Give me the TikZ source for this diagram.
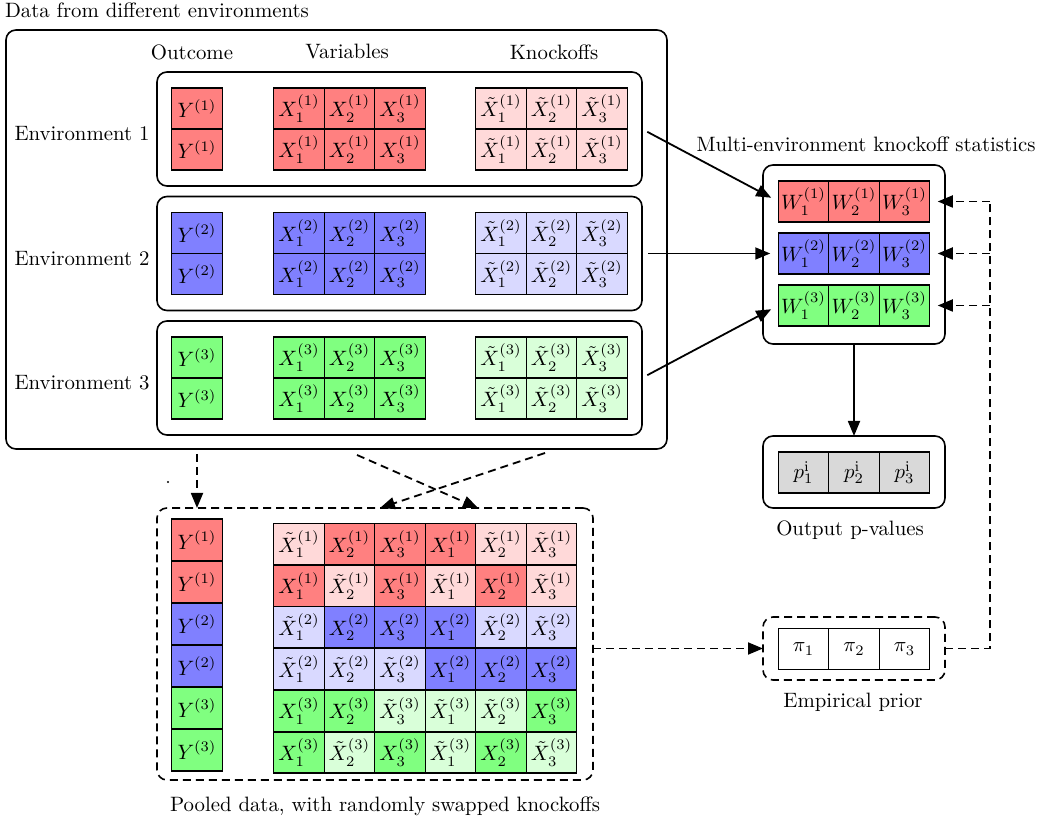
\RequirePackage{fix-cm}
\documentclass[tikz,border=0pt]{standalone}
\usetikzlibrary{arrows.meta,positioning}

\colorlet{env1}{red!50}
\colorlet{env2}{blue!50}
\colorlet{env3}{green!50}
\colorlet{env1l}{red!15}
\colorlet{env2l}{blue!15}
\colorlet{env3l}{green!15}

\begin{document}
\begin{tikzpicture}[x=0.5pt, y=-0.5pt, inner sep=0, outer sep=0,
  font=\fontsize{10.4pt}{12.5pt}\selectfont,
  cell/.style={rectangle, draw=black, semithick,
    minimum width=25.25pt, minimum height=20.5pt},
  panel/.style={rectangle, draw=black, thick, rounded corners=5pt},
  dashes/.style={dash pattern=on 4pt off 2.5pt},
  arr/.style={-{Triangle[length=7.5pt,width=6pt]}, line width=0.9pt},
  darr/.style={arr, dashes}]
  \useasboundingbox (0,0) rectangle (1038,822);

  % data from the environments
  \node[panel, minimum width=330.5pt, minimum height=209.5pt] (data) at (336.5,239.5) {};
  \node[anchor=west] (data-text) at (5,10) {Data from different environments};
  \node (outcome) at (192,52) {Outcome};
  \node (variables) at (347,52) {Variables};
  \node (knockoffs) at (554,52) {Knockoffs};

  \foreach \e/\yc in {1/129, 2/253.5, 3/378} {
    \node[panel, minimum width=242.5pt, minimum height=57pt] (env\e) at (399.5,\yc) {};
    \node (env\e-text) at (82,\yc+5) {Environment \e};
    \foreach \r/\dy in {1/-20.5, 2/20.5} {
      \node[cell, fill=env\e] (y\e\r) at (197,\yc+\dy) {$Y^{(\e)}$};
      \foreach \j/\x in {1/299, 2/349.5, 3/400}
        \node[cell, fill=env\e] (x\e\r\j) at (\x,\yc+\dy) {$X_\j^{(\e)}$};
      \foreach \j/\x in {1/501, 2/551.5, 3/602}
        \node[cell, fill=env\e l] (k\e\r\j) at (\x,\yc+\dy) {$\tilde X_\j^{(\e)}$};
    }
  }

  % knockoff statistics
  \node[panel, minimum width=91pt, minimum height=89.5pt] (wbox) at (854,254.5) {};
  \node (wbox-text) at (866,144) {Multi-environment knockoff statistics};
  \foreach \e/\y in {1/201.5, 2/253.5, 3/305.5}
    \foreach \j/\x in {1/803.5, 2/854, 3/904.5}
      \node[cell, fill=env\e] (w\e\j) at (\x,\y) {$W_\j^{(\e)}$};

  % p-values
  \node[panel, minimum width=91pt, minimum height=36pt] (pbox) at (854,472) {};
  \node (pbox-text) at (850,530) {Output p-values};
  \foreach \j/\x in {1/803.5, 2/854, 3/904.5}
    \node[cell, fill=gray!30] (p\j) at (\x,472.5) {$p_\j^{\mathrm{i}}$};

  % empirical prior
  \node[panel, dashes, minimum width=91pt, minimum height=31.5pt] (prior) at (854,648.5) {};
  \node (prior-text) at (853,702) {Empirical prior};
  \foreach \j/\x in {1/803.5, 2/854, 3/904.5}
    \node[cell, fill=white] (pi\j) at (\x,649) {$\pi_\j$};

  % pooled data
  \node[panel, dashes, minimum width=218pt, minimum height=136pt] (pool) at (375,644) {};
  \node (pool-text) at (385,806) {Pooled data, with randomly swapped knockoffs};
  \foreach \r/\e in {1/1, 2/1, 3/2, 4/2, 5/3, 6/3}
    \node[cell, minimum height=21pt, fill=env\e] (py\r) at (197,540+42*\r-42) {$Y^{(\e)}$};
  \foreach \r/\e/\flags in {1/1/{0,1,1,1,0,0}, 2/1/{1,0,1,0,1,0}, 3/2/{0,1,1,1,0,0},
                            4/2/{0,0,0,1,1,1}, 5/3/{1,1,0,0,0,1}, 6/3/{1,0,1,0,1,0}} {
    \foreach \f [count=\c] in \flags {
      \pgfmathtruncatemacro\j{mod(\c-1,3)+1}
      \ifnum\f=1
        \node[cell, fill=env\e] (px\r\c) at (248.5+50.5*\c,544+41.7*\r-41.7) {$X_\j^{(\e)}$};
      \else
        \node[cell, fill=env\e l] (px\r\c) at (248.5+50.5*\c,544+41.7*\r-41.7) {$\tilde X_\j^{(\e)}$};
      \fi
    }
  }
  \node[circle, fill=black, minimum size=1.2pt] (dot) at (168,482) {};

  % connectors
  \foreach \e in {1,2,3}
    \draw[arr, shorten <=3pt, shorten >=4pt] (env\e.east) -- (w\e1.west);
  \draw[arr] (wbox.south) -- (pbox.north);

  \coordinate (cross1) at (357,455);
  \coordinate (cross2) at (478,508);
  \coordinate (cross3) at (545,453);
  \coordinate (cross4) at (380,508);
  \draw[darr, shorten <=2.5pt] (data.south -| y11) -- (pool.north -| y11);
  \draw[darr] (cross1) -- (cross2);
  \draw[darr] (cross3) -- (cross4);

  \draw[darr] (pool.east |- prior.west) -- (prior.west);
  \coordinate (back) at ([xshift=22.5pt]prior.east);
  \draw[line width=0.9pt, dashes] (prior.east) -- (back) -- (back |- w13.east);
  \foreach \e in {1,2,3}
    \draw[darr, shorten >=4pt] (back |- w\e3.east) -- (w\e3.east);
\end{tikzpicture}
\end{document}
